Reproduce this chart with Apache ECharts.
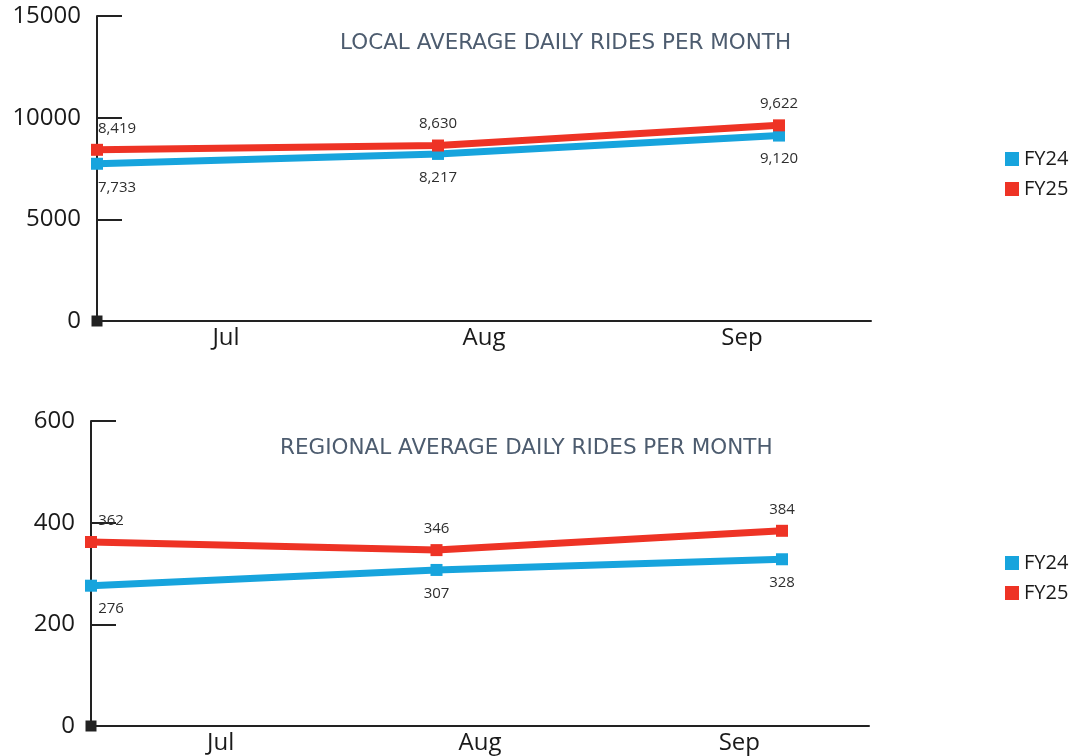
<!DOCTYPE html>
<html>
<head>
<meta charset="utf-8">
<title>Average Daily Rides per Month</title>
<script src="https://cdn.jsdelivr.net/npm/echarts@6/dist/echarts.min.js"></script>
<style>
  html, body { margin: 0; padding: 0; background: #ffffff; }
  #chart { width: 1078px; height: 756px; }
</style>
</head>
<body>
<div id="chart"></div>
<script>
// Months shown on both panels
const months = ['Jul', 'Aug', 'Sep'];

// Local service: average daily rides
const localFY24 = [7733, 8217, 9120];
const localFY25 = [8419, 8630, 9622];

// Regional service: average daily rides
const regionalFY24 = [276, 307, 328];
const regionalFY25 = [362, 346, 384];

// Value axis ranges
const localAxis = { min: 0, max: 15000, interval: 5000 };
const regionalAxis = { min: 0, max: 600, interval: 200 };

const seriesNames = ['FY24', 'FY25'];
const titles = ['LOCAL AVERAGE DAILY RIDES PER MONTH', 'REGIONAL AVERAGE DAILY RIDES PER MONTH'];

const BLUE = '#17a4dd';
const RED = '#ee3325';
const FONT = 'Open Sans';

const fmt = v => v.toLocaleString('en-US');

// Grids 0/2 carry the visible axes, grids 1/3 carry the lines
const grids = [
  { left: 97, right: 207, top: 16, bottom: 435 },
  { left: 97, right: 299, top: 16, bottom: 435 },
  { left: 91, right: 209, top: 421, bottom: 30 },
  { left: 91, right: 296, top: 421, bottom: 30 }
];

function visibleX(gridIndex) {
  return {
    type: 'category', gridIndex, data: months, boundaryGap: true,
    axisLine: { lineStyle: { color: '#222', width: 2 }, symbol: ['rect', 'none'], symbolSize: [11, 11] },
    axisTick: { inside: true, length: 8, lineStyle: { color: '#222', width: 2 } },
    axisLabel: { fontFamily: FONT, fontSize: 24, color: '#1a1a1a', margin: 5 },
    splitLine: { show: false }
  };
}
function hiddenX(gridIndex) {
  return {
    type: 'category', gridIndex, data: months, boundaryGap: false, show: false
  };
}
function visibleY(gridIndex, range) {
  return {
    type: 'value', gridIndex, min: range.min, max: range.max, interval: range.interval,
    axisLine: { show: true, lineStyle: { color: '#222', width: 2 } },
    axisTick: { show: true, inside: true, length: 25, lineStyle: { color: '#222', width: 2 } },
    axisLabel: { fontFamily: FONT, fontSize: 24, color: '#1a1a1a', margin: 16, formatter: v => String(v) },
    splitLine: { show: false }
  };
}
function hiddenY(gridIndex, range) {
  return { type: 'value', gridIndex, min: range.min, max: range.max, show: false };
}

function lineSeries(name, values, axisIndex, color, above) {
  return {
    name, type: 'line', xAxisIndex: axisIndex, yAxisIndex: axisIndex,
    data: values.map((v, i) => i === 0
      ? { value: v, label: { offset: [20, 0] } }
      : v),
    symbol: 'rect', symbolSize: 12,
    lineStyle: { color, width: 7 },
    itemStyle: { color },
    z: above ? 4 : 3,
    label: {
      show: true,
      position: above ? 'top' : 'bottom',
      distance: above ? 8 : 10,
      fontFamily: FONT, fontSize: 15, color: '#2e2e2e',
      formatter: p => fmt(p.value)
    }
  };
}

function legend(top) {
  return {
    orient: 'vertical', left: 1000, top, itemWidth: 14, itemHeight: 14, itemGap: 10,
    icon: 'rect', data: seriesNames, selectedMode: false,
    textStyle: { fontFamily: FONT, fontSize: 20, color: '#1a1a1a', padding: [0, 0, 0, 0] }
  };
}

const titleStyle = { fontFamily: 'DejaVu Sans', fontWeight: 'normal', fontSize: 21.5, color: '#4d5c6f' };

const option = {
  animation: false,
  backgroundColor: '#ffffff',
  title: [
    { text: titles[0], left: 335, top: 27, textStyle: titleStyle },
    { text: titles[1], left: 275, top: 432, textStyle: titleStyle }
  ],
  legend: [legend(144), legend(548)],
  grid: grids,
  xAxis: [visibleX(0), hiddenX(1), visibleX(2), hiddenX(3)],
  yAxis: [
    visibleY(0, localAxis), hiddenY(1, localAxis),
    visibleY(2, regionalAxis), hiddenY(3, regionalAxis)
  ],
  series: [
    lineSeries(seriesNames[0], localFY24, 1, BLUE, false),
    lineSeries(seriesNames[1], localFY25, 1, RED, true),
    lineSeries(seriesNames[0], regionalFY24, 3, BLUE, false),
    lineSeries(seriesNames[1], regionalFY25, 3, RED, true)
  ]
};

const chart = echarts.init(document.getElementById('chart'), null, { renderer: 'canvas' });
chart.setOption(option);
</script>
</body>
</html>
